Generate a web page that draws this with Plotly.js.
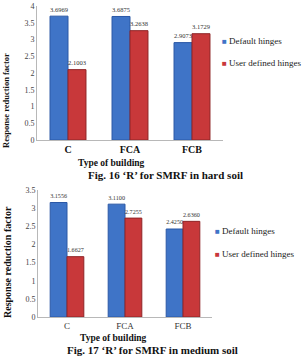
<!DOCTYPE html>
<html>
<head>
<meta charset="utf-8">
<script src="https://cdn.plot.ly/plotly-3.0.1.min.js"></script>
<style>
  html, body { margin: 0; padding: 0; background: #fff; }
  #chart { width: 304px; height: 356px; }
</style>
</head>
<body>
<div id="chart"></div>
<script>
// Building types on the category axis
const buildingTypes = ['C', 'FCA', 'FCB'];

// Response reduction factor R, hard soil (Fig. 16)
const hardDefault = [3.6969, 3.6875, 2.9073];
const hardUser = [2.1003, 3.2638, 3.1729];

// Response reduction factor R, medium soil (Fig. 17)
const mediumDefault = [3.1556, 3.1100, 2.4250];
const mediumUser = [1.6627, 2.7255, 2.6360];

const seriesNames = ['Default hinges', 'User defined hinges'];
const captions = ["Fig. 16 \u2018R\u2019 for SMRF in hard soil", "Fig. 17 \u2018R\u2019 for SMRF in medium soil"];

const W = 304, H = 356;
const px = x => x / W;
const py = y => 1 - y / H;

const BLUE = '#3f74c7', BLUE_EDGE = '#2b58a6';
const RED = '#c8383a', RED_EDGE = '#8f2426';
const SERIF = '"Liberation Serif", "DejaVu Serif", serif';

function barTrace(values, name, color, edge, xa, ya) {
  return {
    type: 'bar', x: buildingTypes, y: values, name: name,
    xaxis: xa, yaxis: ya, showlegend: false,
    marker: { color: color, line: { color: edge, width: 1 } },
    text: values.map(v => v.toFixed(4)), textposition: 'outside',
    textfont: { family: SERIF, size: 8, color: '#333' },
    cliponaxis: false, hoverinfo: 'skip'
  };
}

const data = [
  barTrace(hardDefault, seriesNames[0], BLUE, BLUE_EDGE, 'x', 'y'),
  barTrace(hardUser, seriesNames[1], RED, RED_EDGE, 'x', 'y'),
  barTrace(mediumDefault, seriesNames[0], BLUE, BLUE_EDGE, 'x2', 'y2'),
  barTrace(mediumUser, seriesNames[1], RED, RED_EDGE, 'x2', 'y2')
];

const yBase = {
  showline: true, linecolor: '#b8b8b8', linewidth: 1,
  showgrid: false, zeroline: false, ticks: '', dtick: 0.5,
  tickfont: { family: SERIF, size: 8, color: '#444' }, fixedrange: true
};
const xBase = {
  showline: true, linecolor: '#b8b8b8', linewidth: 1,
  showgrid: false, ticks: '', fixedrange: true
};

function legendItems(x, y1, y2, size) {
  const mk = (y, color, label) => ({
    xref: 'paper', yref: 'paper', x: px(x), y: py(y),
    xanchor: 'left', yanchor: 'middle', showarrow: false,
    text: '<span style="color:' + color + ';font-size:8px">\u25A0</span> ' + label,
    font: { family: SERIF, size: size, color: '#222' }
  });
  return [mk(y1, BLUE, seriesNames[0]), mk(y2, RED, seriesNames[1])];
}

function textNote(text, x, y, size, bold, angle) {
  return {
    xref: 'paper', yref: 'paper', x: px(x), y: py(y),
    xanchor: 'center', yanchor: 'middle', showarrow: false,
    text: bold ? '<b>' + text + '</b>' : text, textangle: angle || 0,
    font: { family: SERIF, size: size, color: '#111' }
  };
}

const layout = {
  width: W, height: H,
  margin: { l: 0, r: 0, t: 0, b: 0 },
  paper_bgcolor: '#fff', plot_bgcolor: '#fff',
  showlegend: false, barmode: 'group', bargap: 0.42, bargroupgap: 0,
  xaxis: Object.assign({}, xBase, {
    domain: [px(37), px(223)], anchor: 'y',
    tickfont: { family: SERIF, size: 10, color: '#111', weight: 'bold' }
  }),
  yaxis: Object.assign({}, yBase, {
    domain: [py(140), py(6)], range: [0, 4], anchor: 'x'
  }),
  xaxis2: Object.assign({}, xBase, {
    domain: [px(38), px(212)], anchor: 'y2',
    tickfont: { family: SERIF, size: 9, color: '#333' }
  }),
  yaxis2: Object.assign({}, yBase, {
    domain: [py(317), py(190)], range: [0, 3.5], anchor: 'x2'
  }),
  annotations: [
    textNote('Response reduction factor', 6, 101, 8.5, true, -90),
    textNote('Type of building', 111, 163, 9.5, true),
    textNote(captions[0], 165, 175, 11, true),
    textNote('Response reduction factor', 7, 262, 10, true, -90),
    textNote('Type of building', 113, 338, 9.5, true),
    textNote(captions[1], 152, 350, 11, true)
  ].concat(legendItems(220, 41, 63, 9), legendItems(213, 231, 254, 9))
};

Plotly.newPlot('chart', data, layout, { displayModeBar: false, staticPlot: true });
</script>
</body>
</html>
